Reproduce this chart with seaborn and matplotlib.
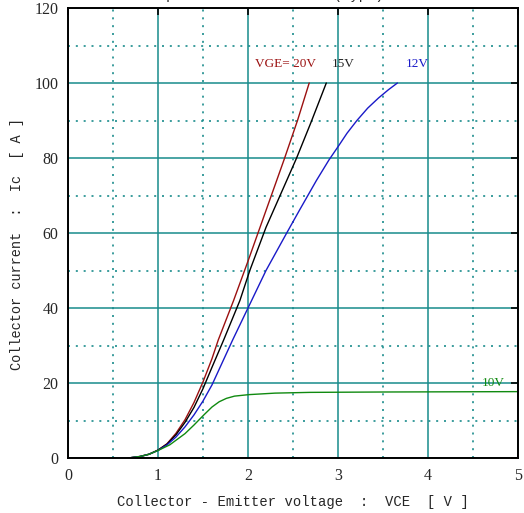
import numpy as np
import pandas as pd
import matplotlib
matplotlib.use("Agg")
import matplotlib.pyplot as plt
import seaborn as sns
from matplotlib.ticker import MultipleLocator

# ---- data ----
vce_20 = [0.67, 0.8, 0.9, 1.0, 1.1, 1.2, 1.3, 1.4, 1.5, 1.6, 1.67, 1.84, 2.0, 2.2, 2.4, 2.55, 2.68]
ic_20 = [0.0, 0.4, 1.0, 2.1, 3.8, 6.6, 10.2, 14.8, 20.3, 26.5, 31.5, 42.0, 52.5, 66.0, 79.5, 90.0, 100.0]

vce_15 = [0.67, 0.8, 0.9, 1.0, 1.1, 1.2, 1.3, 1.4, 1.5, 1.6, 1.73, 1.91, 2.02, 2.2, 2.43, 2.54, 2.7, 2.87]
ic_15 = [0.0, 0.4, 1.0, 2.1, 3.7, 6.2, 9.5, 13.5, 18.5, 24.2, 31.5, 42.0, 50.0, 61.5, 74.0, 80.0, 89.5, 100.0]

vce_12 = [0.67, 0.8, 0.9, 1.0, 1.1, 1.2, 1.3, 1.4, 1.5, 1.6, 1.83, 2.0, 2.2, 2.43, 2.57, 2.76, 2.9, 3.0, 3.1, 3.21, 3.33, 3.45, 3.56, 3.66]
ic_12 = [0.0, 0.4, 1.0, 2.0, 3.5, 5.6, 8.3, 11.5, 15.2, 19.5, 31.5, 40.0, 50.0, 60.0, 66.0, 74.0, 79.5, 83.0, 86.6, 90.0, 93.3, 96.0, 98.2, 100.0]

vce_10 = [0.67, 0.8, 0.9, 1.0, 1.13, 1.3, 1.4, 1.51, 1.6, 1.68, 1.76, 1.85, 2.01, 2.3, 2.69, 3.5, 5.0]
ic_10 = [0.0, 0.4, 1.0, 2.0, 3.5, 6.5, 8.8, 11.5, 13.6, 15.0, 15.9, 16.5, 16.9, 17.3, 17.5, 17.6, 17.7]

x_ticks = [0, 1, 2, 3, 4, 5]
y_ticks = [0, 20, 40, 60, 80, 100, 120]

curves = [
    ("20V", vce_20, ic_20, "#9b1010"),
    ("15V", vce_15, ic_15, "#000000"),
    ("12V", vce_12, ic_12, "#1a1ac8"),
    ("10V", vce_10, ic_10, "#108a10"),
]

frames = []
for name, xs, ys, _ in curves:
    frames.append(pd.DataFrame({"VCE": xs, "Ic": ys, "VGE": name}))
df = pd.concat(frames, ignore_index=True)

sns.set_style("white")
plt.rcParams["font.family"] = ["Liberation Serif", "DejaVu Serif"]

fig = plt.figure(figsize=(5.24, 5.13), dpi=100)
ax = fig.add_axes([68 / 524, 55 / 513, 450 / 524, 450 / 513])

teal = "#1a8c8c"
ax.set_xlim(0, 5)
ax.set_ylim(0, 120)
ax.xaxis.set_major_locator(MultipleLocator(1))
ax.yaxis.set_major_locator(MultipleLocator(20))
ax.xaxis.set_minor_locator(MultipleLocator(0.5))
ax.yaxis.set_minor_locator(MultipleLocator(10))
ax.grid(True, which="major", color=teal, linewidth=1.3, alpha=0.85)
ax.grid(True, which="minor", color=teal, linewidth=1.2, linestyle=(0, (1.2, 3.5)))
ax.set_axisbelow(True)

palette = {name: c for name, _, _, c in curves}
sns.lineplot(data=df, x="VCE", y="Ic", hue="VGE", palette=palette, sort=False,
             estimator=None, linewidth=1.0, legend=False, ax=ax)

ax.set_xticks(x_ticks)
ax.set_yticks(y_ticks)
ax.set_xticklabels([str(v) for v in x_ticks])
ax.set_yticklabels([str(v) for v in y_ticks])
ax.tick_params(which="major", direction="in", length=5, width=1.2, color="black",
               top=True, right=True, labelsize=11.5, pad=7)
ax.tick_params(which="minor", length=0)
for s in ax.spines.values():
    s.set_color("black")
    s.set_linewidth(1.4)

ax.set_xlabel("Collector - Emitter voltage  :  VCE  [ V ]", family="Liberation Mono",
              fontsize=10, labelpad=8)
ax.set_ylabel("Collector current  :  Ic  [ A ]", family="Liberation Mono",
              fontsize=9.8)
ax.yaxis.set_label_coords(-0.098, 0.475)

ax.text(2.08, 104.3, "VGE= 20V", color="#9b1010", fontsize=9.5, family="Liberation Serif")
ax.text(2.93, 104.3, "15V", color="#222222", fontsize=9.5, family="Liberation Serif")
ax.text(3.75, 104.3, "12V", color="#1a1ac8", fontsize=9.5, family="Liberation Serif")
ax.text(4.6, 19.3, "10V", color="#108a10", fontsize=9.5, family="Liberation Serif")

fig.text(0.5, 1.0 + 1.5 / 513, "Output characteristics (typ.)", ha="center", va="baseline",
         fontsize=10, family="Liberation Mono")

fig.savefig("out.png", dpi=100)
